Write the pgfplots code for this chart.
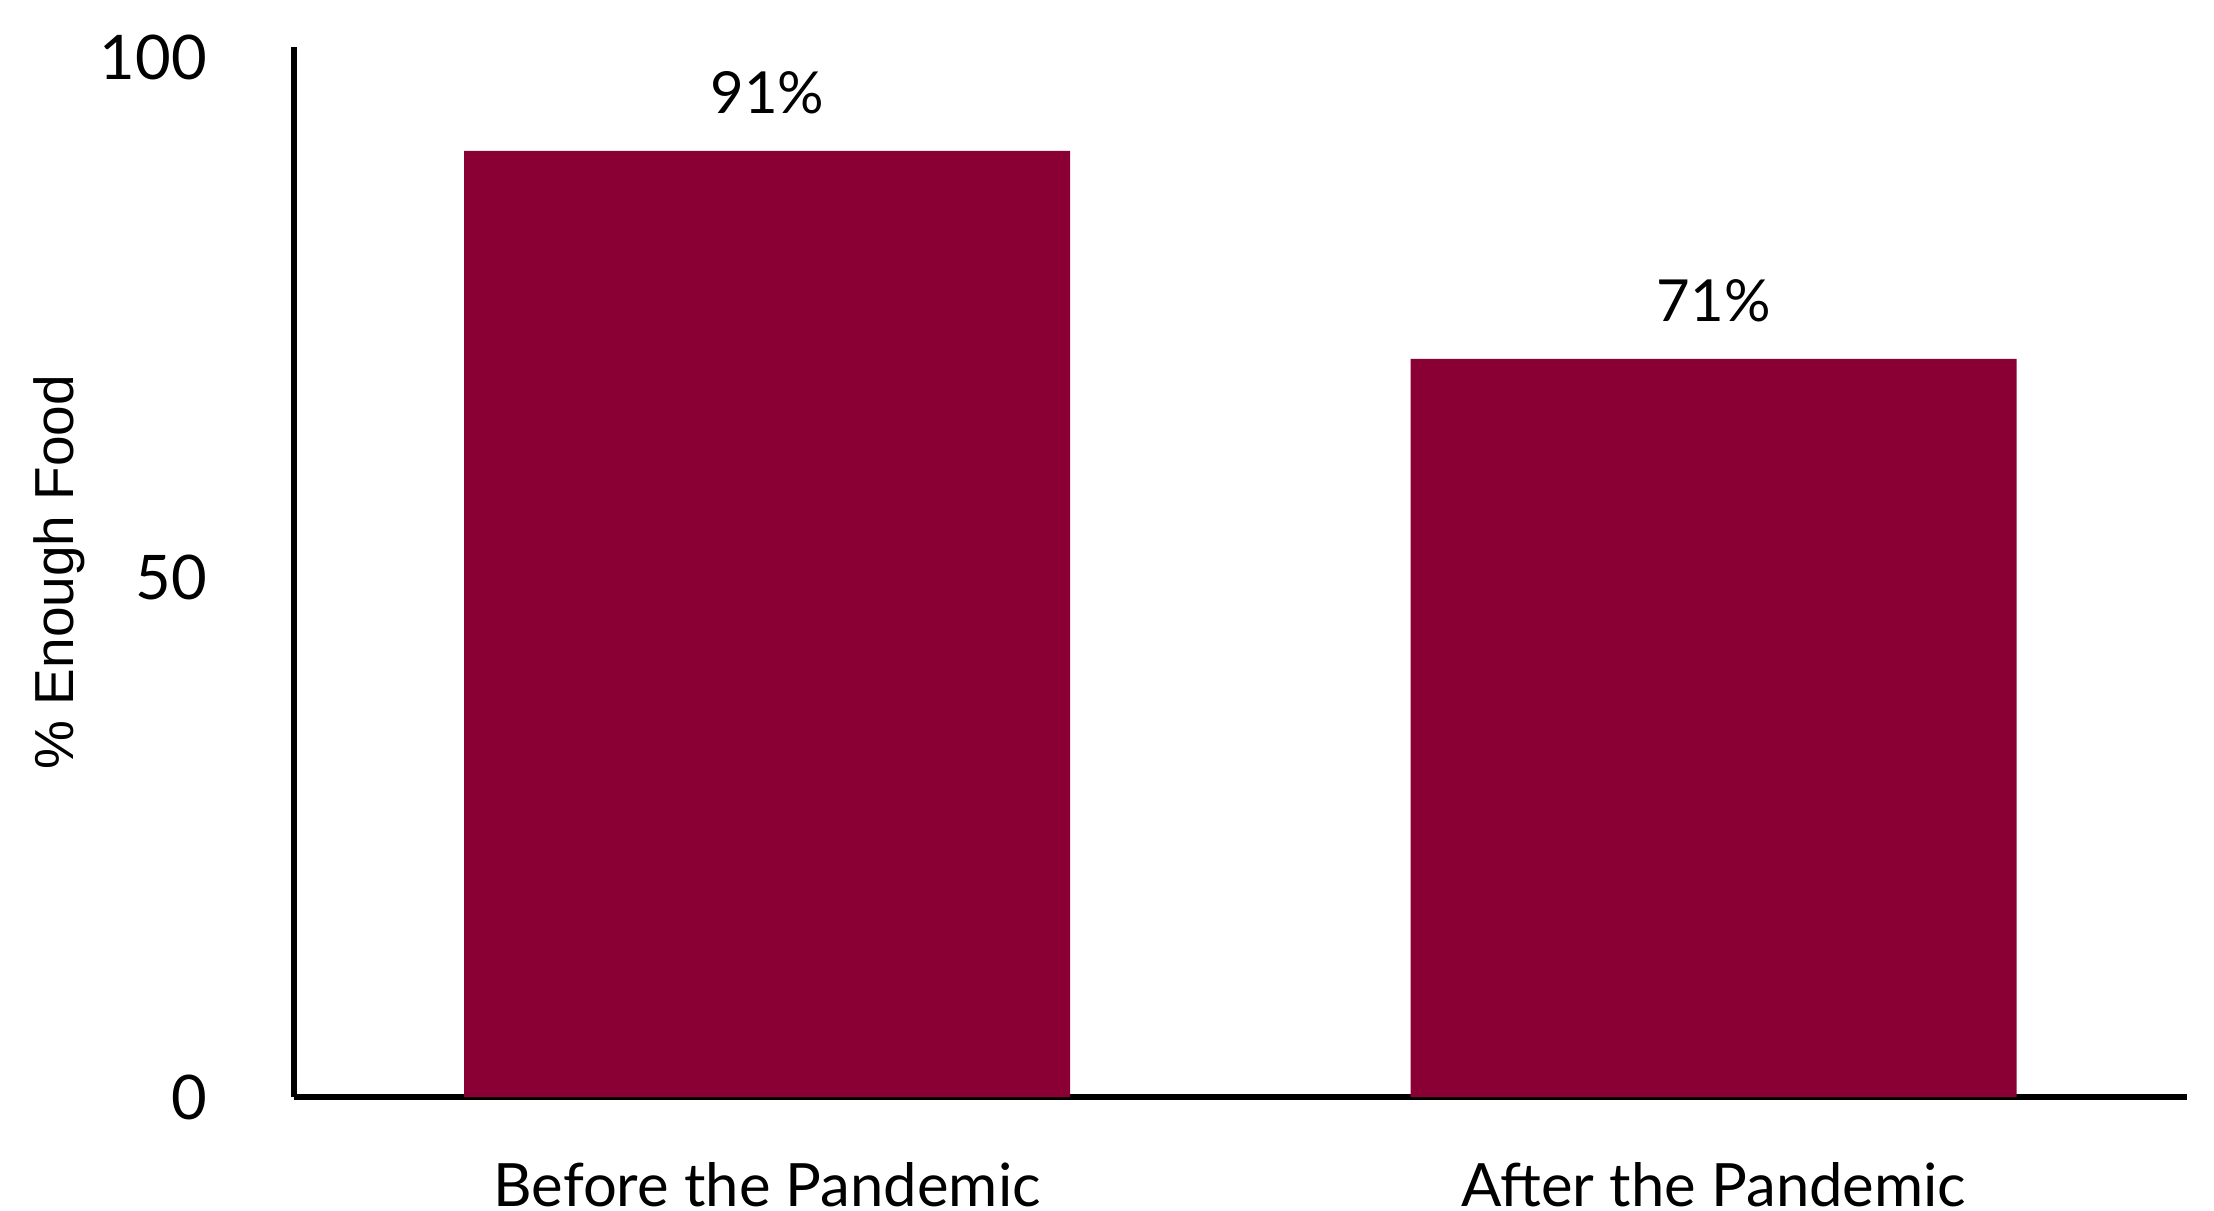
\documentclass[border=0pt]{standalone}
\usepackage{pgfplots}
\pgfplotsset{compat=1.18}
\usepackage{fontspec}
\setmainfont{Lato}
\newfontfamily\arialf{Liberation Sans}
\definecolor{barred}{RGB}{139,0,52}
\begin{document}
\begin{tikzpicture}
\path[use as bounding box] (-58.8pt,-22.6pt) rectangle (384pt,219.4pt);
\begin{axis}[
  at={(0pt,0pt)}, anchor=south west,
  scale only axis, width=378.6pt, height=210pt,
  xmin=-0.5, xmax=1.5, ymin=0, ymax=101,
  axis lines=left,
  axis line style={line width=1.2pt, -},
  ytick={0,50,100},
  xtick={0,1},
  xticklabels={Before the Pandemic, After the Pandemic},
  major tick length=0pt,
  tick style={draw=none},
  /pgf/number format/assume math mode=true,
  yticklabel style={font=\fontsize{12.3}{14}\selectfont, anchor=east, inner sep=0pt, xshift=-17.2pt},
  xticklabel style={font=\fontsize{11.95}{14}\selectfont, anchor=north, inner sep=0pt, text depth=0pt, yshift=-12.8pt},
  ylabel style={at={(axis description cs:0,0.5)}, rotate=0, anchor=center, yshift=0pt, font=\arialf\fontsize{11}{13}\selectfont},
  every axis y label/.style={at={([xshift=-47pt]axis description cs:0,0.5)}, rotate=90, anchor=center, font=\arialf\fontsize{11}{13}\selectfont},
  ylabel={\% Enough Food},
  ybar, bar width=121.2pt,
  nodes near coords={\pgfmathprintnumber{\pgfplotspointmeta}\%},
  nodes near coords style={font=\fontsize{11.6}{14}\selectfont, inner sep=0pt, anchor=south, yshift=7.2pt, text=black},
  clip=false,
]
\addplot[fill=barred, draw=none] coordinates {(0,91) (1,71)};
\end{axis}
\end{tikzpicture}
\end{document}
